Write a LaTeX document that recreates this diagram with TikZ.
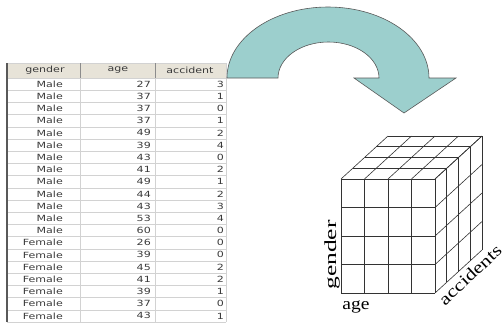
\documentclass[tikz,border=0pt]{standalone}
\usepackage{graphicx}
\usepackage{fontspec}
\setmainfont{DejaVu Sans}
\newfontfamily\labelfont{Liberation Serif}
\definecolor{arrowfill}{HTML}{9CCFCD}
\definecolor{hdrbg}{HTML}{E7E3D8}
\definecolor{gridc}{HTML}{D2D2D2}
\definecolor{txt}{HTML}{3A3A3A}
\definecolor{cubec}{HTML}{333333}
\newcommand{\cw}[1]{\scalebox{1.3}[1]{#1}}
\tikzset{
  cell/.style={font=\fontsize{8.5}{9}\selectfont, text=txt, inner sep=0pt},
  hdr/.style={cell, anchor=center},
  val/.style={cell, anchor=east},
  gridline/.style={draw=gridc, line width=0.6pt},
  cubeline/.style={draw=cubec, line width=0.6pt},
  axislabel/.style={font=\labelfont\fontsize{17}{18}\selectfont, inner sep=0pt, text=black},
  bigarrow/.style={fill=arrowfill, draw=black!65, line width=0.6pt}
}
\begin{document}
\begin{tikzpicture}[x=1pt,y=-1pt]
\useasboundingbox (0,0) rectangle (504,322);
% ---------- table ----------
\fill[hdrbg] (7,63) rectangle (226,78);
\draw[gridline] (7,63) -- (226,63);
\draw[gridline] (226,63) -- (226,322);
\draw[draw=black!45, line width=0.8pt] (80,63) -- (80,78) (155,63) -- (155,78);
\foreach \i in {0,...,20}{
  \draw[gridline] (7,{78+12.2*\i}) -- (226,{78+12.2*\i});
}
\draw[gridline] (80,78) -- (80,322) (155,78) -- (155,322);
\draw[draw=black!65, line width=1.3pt] (7,63) -- (7,322);
\node[hdr] (hg) at (45,70.5) {\cw{gender}};
\node[hdr] (ha) at (118,70.5) {\cw{age}};
\node[hdr] (hc) at (190,70.5) {\cw{accident}};
\foreach \g/\a/\c [count=\i] in {Male/27/3,Male/37/1,Male/37/0,Male/37/1,Male/49/2,Male/39/4,Male/43/0,Male/41/2,Male/49/1,Male/44/2,Male/43/3,Male/53/4,Male/60/0,Female/26/0,Female/39/0,Female/45/2,Female/41/2,Female/39/1,Female/37/0,Female/43/1}{
  \node[val] (g\i) at (63,{78+12.2*(\i-0.5)}) {\cw{\g}};
  \node[val] (a\i) at (151,{78+12.2*(\i-0.5)}) {\cw{\a}};
  \node[val] (c\i) at (224,{78+12.2*(\i-0.5)}) {\cw{\c}};
}
% ---------- curved arrow ----------
\draw[bigarrow] (227,78) arc[start angle=180, end angle=360, x radius=101, y radius=71]
  -- (456,78) -- (404,113) -- (354,78) -- (379,78)
  arc[start angle=360, end angle=180, x radius=50.5, y radius=36] -- cycle;
% ---------- cube ----------
\def\FL{341}\def\FR{435}\def\FT{179}\def\FB{293}
\def\DX{47}\def\DY{-43}
% front face
\foreach \k in {0,...,4}{
  \draw[cubeline] ({\FL+(\FR-\FL)*\k/4},\FT) -- ({\FL+(\FR-\FL)*\k/4},\FB);
  \draw[cubeline] (\FL,{\FT+(\FB-\FT)*\k/4}) -- (\FR,{\FT+(\FB-\FT)*\k/4});
}
% top face
\foreach \k in {0,...,4}{
  \draw[cubeline] ({\FL+(\FR-\FL)*\k/4},\FT) -- ++(\DX,\DY);
  \draw[cubeline] ({\FL+\DX*\k/4},{\FT+\DY*\k/4}) -- ++({\FR-\FL},0);
}
% right face
\foreach \k in {0,...,4}{
  \draw[cubeline] ({\FR+\DX*\k/4},{\FT+\DY*\k/4}) -- ++(0,{\FB-\FT});
  \draw[cubeline] (\FR,{\FT+(\FB-\FT)*\k/4}) -- ++(\DX,\DY);
}
% axis labels
\node[axislabel, rotate=90] (lgender) at (332,255) {\scalebox{1.5}[1]{gender}};
\node[axislabel] (lage) at (356,307) {\scalebox{1.15}[1]{age}};
\node[axislabel, rotate=43] (lacc) at (470,275) {\scalebox{1.25}[1]{accidents}};
\end{tikzpicture}
\end{document}
